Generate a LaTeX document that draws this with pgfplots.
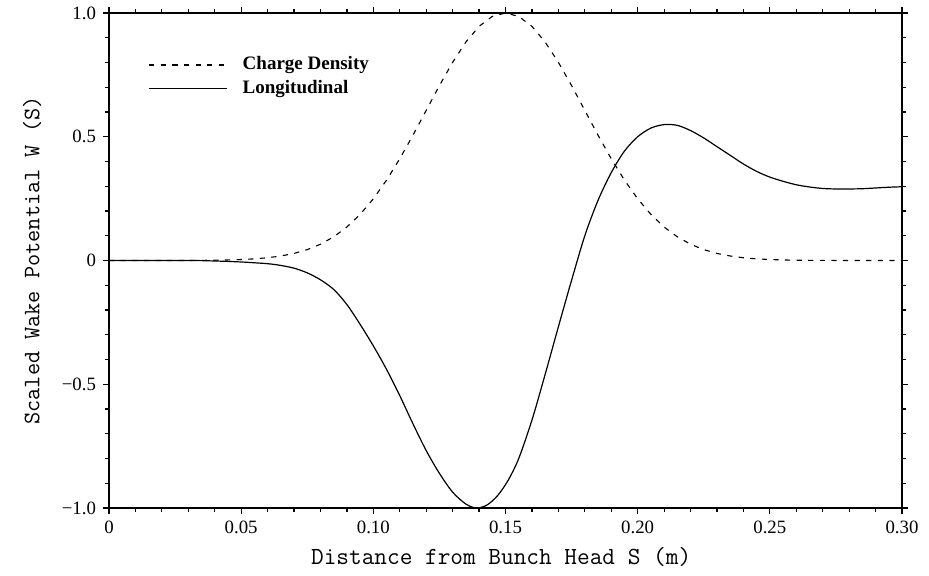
\documentclass[border=0pt]{standalone}
\usepackage{fontspec}
\setmainfont{Liberation Serif}
\usepackage{pgfplots}
\pgfplotsset{compat=1.18}
\begin{document}
\begin{tikzpicture}
\path[use as bounding box] (-54.5pt,-34pt) rectangle (410pt,254pt);
\begin{axis}[
  at={(0,0)}, anchor=south west,
  scale only axis, width=396.5pt, height=247.5pt,
  xmin=0, xmax=0.3, ymin=-1, ymax=1,
  xtick={0,0.05,0.1,0.15,0.2,0.25,0.3},
  xticklabels={0,0.05,0.10,0.15,0.20,0.25,0.30},
  ytick={-1,-0.5,0,0.5,1},
  yticklabels={−1.0,−0.5,0,0.5,1.0},
  minor x tick num=4, minor y tick num=4,
  tick align=outside,
  major tick length=3pt, minor tick length=2pt,
  tick style={black, line width=0.6pt},
  axis line style={line width=0.8pt},
  tick label style={font=\fontsize{9.4}{11}\selectfont},
  xlabel={Distance from Bunch Head S (m)},
  ylabel={Scaled Wake Potential W (S)},
  xlabel style={font=\fontsize{12.3}{14}\ttfamily, at={(axis description cs:0.4945,-0.099)}, anchor=center},
  ylabel style={font=\fontsize{11.8}{13}\ttfamily, at={(axis description cs:-0.097,0.5)}, anchor=center},
  legend cell align=left,
  legend style={draw=none, fill=none, at={(axis cs:0.0148,0.836)}, anchor=north west,
    font=\fontsize{9.5}{11}\selectfont\bfseries, inner sep=0pt, row sep=0.8pt,
    nodes={inner sep=1pt, text height=7pt, text depth=2pt}},
  legend image code/.code={\draw[#1] (0pt,0pt) -- (39pt,0pt); \path (45.5pt,0pt);},
]
\addplot[black, line width=0.55pt, dash pattern=on 2.6pt off 3.2pt] coordinates {
(0,0) (0.03,0) (0.04,0.0012) (0.045,0.0022) (0.05,0.0039) (0.055,0.0066) (0.06,0.0111) (0.065,0.0181) (0.07,0.0286)
(0.075,0.0439) (0.08,0.0657) (0.085,0.0956) (0.09,0.1353) (0.095,0.1863) (0.1,0.2494) (0.105,0.3247) (0.11,0.4111)
(0.115,0.5063) (0.12,0.6065) (0.125,0.7066) (0.13,0.8007) (0.135,0.8825) (0.14,0.9460) (0.145,0.9862) (0.15,1.0)
(0.155,0.9862) (0.16,0.9460) (0.165,0.8825) (0.17,0.8007) (0.175,0.7066) (0.18,0.6065) (0.185,0.5063) (0.19,0.4111)
(0.195,0.3247) (0.2,0.2494) (0.205,0.1863) (0.21,0.1353) (0.215,0.0956) (0.22,0.0657) (0.225,0.0439) (0.23,0.0286)
(0.235,0.0181) (0.24,0.0111) (0.245,0.0066) (0.25,0.0039) (0.255,0.0022) (0.26,0.0012) (0.27,0.0003) (0.28,0) (0.3,0)
};
\addlegendentry{Charge Density}
\addplot[black, line width=0.6pt, smooth] coordinates {
(0,0) (0.03,0) (0.04,-0.002) (0.05,-0.006) (0.06,-0.013) (0.065,-0.020) (0.07,-0.031) (0.075,-0.050) (0.08,-0.078) (0.085,-0.117)
(0.09,-0.178) (0.095,-0.258) (0.1,-0.345) (0.105,-0.440) (0.11,-0.546) (0.115,-0.660) (0.12,-0.768) (0.125,-0.860) (0.13,-0.936)
(0.135,-0.984) (0.139,-1.0) (0.143,-0.988) (0.147,-0.950) (0.151,-0.888) (0.155,-0.800) (0.16,-0.645) (0.165,-0.460) (0.17,-0.268)
(0.175,-0.080) (0.18,0.100) (0.185,0.243) (0.19,0.355) (0.195,0.442) (0.2,0.500) (0.205,0.535) (0.21,0.549) (0.215,0.546)
(0.22,0.525) (0.225,0.495) (0.23,0.460) (0.235,0.425) (0.24,0.390) (0.245,0.360) (0.25,0.337) (0.255,0.320) (0.26,0.306)
(0.265,0.297) (0.27,0.291) (0.275,0.289) (0.28,0.289) (0.285,0.290) (0.29,0.293) (0.295,0.296) (0.3,0.298)
};
\addlegendentry{Longitudinal}
\end{axis}
\end{tikzpicture}
\end{document}
